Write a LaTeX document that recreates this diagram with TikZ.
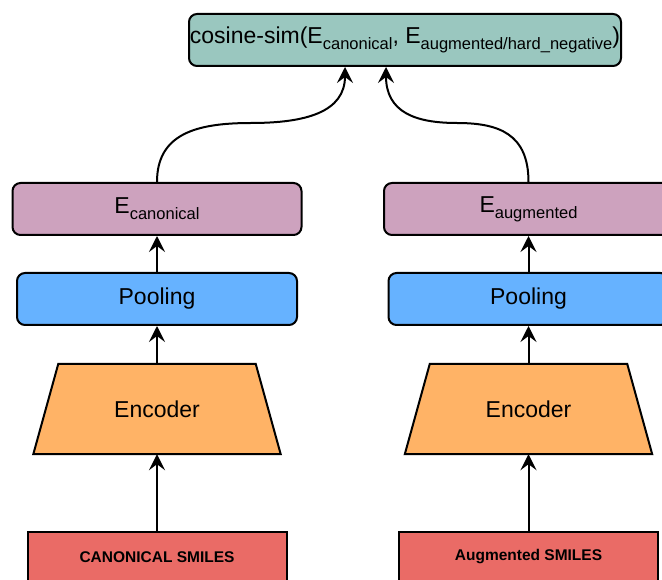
\documentclass[tikz,border=0pt]{standalone}
\usepackage{fontspec}
\setmainfont{Liberation Sans}
\usetikzlibrary{arrows.meta,calc,backgrounds}
\newcommand{\lowsub}[1]{\raisebox{-6pt}{\fontsize{16.5}{18}\selectfont #1}}
\definecolor{simfill}{HTML}{9AC7BF}
\definecolor{embfill}{HTML}{CDA2BE}
\definecolor{poolfill}{HTML}{66B2FF}
\definecolor{encfill}{HTML}{FFB366}
\definecolor{smilesfill}{HTML}{EA6B66}
\begin{document}
\begin{tikzpicture}[x=1pt,y=-1pt,
  box/.style={draw=black, line width=2pt, rounded corners=8pt, inner sep=0pt,
    text=black, font=\fontsize{23}{27}\selectfont},
  simbox/.style={box, fill=simfill, minimum width=432pt, minimum height=52pt},
  embbox/.style={box, fill=embfill, minimum width=289pt, minimum height=52pt},
  poolbox/.style={box, fill=poolfill, minimum width=280pt, minimum height=52pt},
  encbox/.style={inner sep=0pt, minimum width=247pt, minimum height=90pt,
    font=\fontsize{23}{27}\selectfont},
  encshape/.style={draw=black, line width=2pt, fill=encfill, line join=miter},
  smilesbox/.style={draw=black, line width=2pt, fill=smilesfill, inner sep=0pt,
    minimum width=259pt, minimum height=50pt, font=\fontsize{15.5}{18}\selectfont\bfseries},
  link/.style={line width=2pt, -{Stealth[length=16pt,width=16pt,inset=6pt]}}
]
\useasboundingbox (0,0) rectangle (662,580);
\clip (0,0) rectangle (662,580);

% similarity head
\node[simbox] (sim) at (405,40)
  {cosine-sim(E\lowsub{canonical}, E\lowsub{augmented/hard\_negative})};

% canonical branch
\node[embbox]    (embL)  at (157,209) {E\lowsub{canonical}};
\node[poolbox]   (poolL) at (157,299) {Pooling};
\node[encbox]    (encL)  at (157,409) {Encoder};
\node[smilesbox] (smiL)  at (157,557) {CANONICAL SMILES};

% augmented branch
\node[embbox]    (embR)  at (528.5,209) {E\lowsub{augmented}};
\node[poolbox]   (poolR) at (528.5,299) {Pooling};
\node[encbox]    (encR)  at (528.5,409) {Encoder};
\node[smilesbox] (smiR)  at (528.5,557) {Augmented SMILES};

% encoder trapezoids behind their labels
\begin{scope}[on background layer]
  \foreach \e in {encL,encR}
    \draw[encshape] (\e.south west) -- (\e.south east)
      -- ($(\e.north east)+(-25,0)$) -- ($(\e.north west)+(25,0)$) -- cycle;
\end{scope}

% straight connectors inside each branch
\draw[link] (smiL.north) -- (encL.south);
\draw[link] (encL.north) -- (poolL.south);
\draw[link] (poolL.north) -- (embL.south);
\draw[link] (smiR.north) -- (encR.south);
\draw[link] (encR.north) -- (poolR.south);
\draw[link] (poolR.north) -- (embR.south);

% curved connectors into the similarity head
\coordinate (midL) at (251,123);
\coordinate (midR) at (457,123);
\coordinate (inL) at ($(sim.south)+(-60,0)$);
\coordinate (inR) at ($(sim.south)+(-19,0)$);
\draw[link] (embL.north) .. controls +(0,-48) and +(-55,0) .. (midL)
  .. controls +(55,0) and +(0,45) .. (inL);
\draw[link] (embR.north) .. controls +(0,-48) and +(42,0) .. (midR)
  .. controls +(-42,0) and +(0,45) .. (inR);
\end{tikzpicture}
\end{document}
